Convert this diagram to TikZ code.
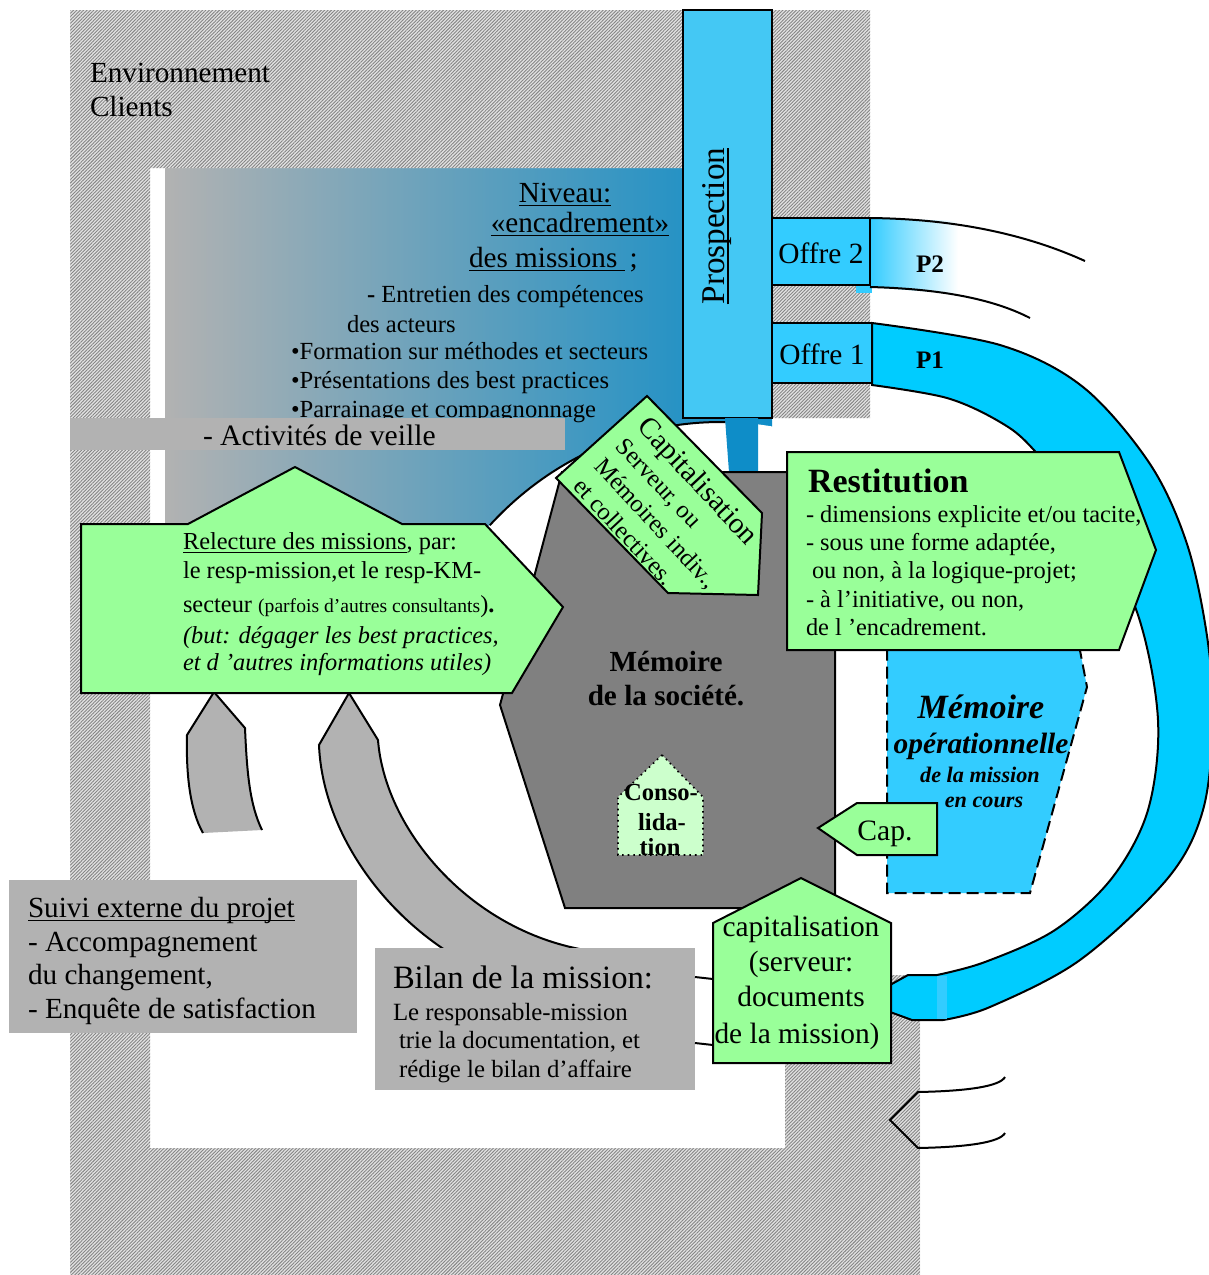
\documentclass[tikz,border=0pt]{standalone}
\usepackage{fontspec}
\setmainfont{Liberation Serif}
\usetikzlibrary{patterns.meta}
\newcommand{\fsz}[1]{\fontsize{#1}{#1}\selectfont}
% underline set a little below the baseline
\newcommand{\undl}[1]{\setbox0\hbox{#1}\rlap{\vrule width\wd0 height -1.3pt depth 2.05pt}\box0}

\definecolor{lgreen}{HTML}{99FF99}
\definecolor{pgreen}{HTML}{CCFFCC}
\definecolor{cyanband}{HTML}{00CCFF}
\definecolor{offreblue}{HTML}{33CCFF}
\definecolor{prosblue}{HTML}{44C8F4}
\definecolor{boxgray}{HTML}{B2B2B2}
\definecolor{memgray}{HTML}{808080}
\definecolor{deepblue}{HTML}{0E8DC8}
\definecolor{midblue}{HTML}{8EAABE}
\definecolor{hatchbg}{HTML}{E2E2E2}
\definecolor{hatchline}{HTML}{858585}

\tikzset{
  txt/.style={inner sep=0pt, outer sep=0pt, anchor=base west},
  ctxt/.style={inner sep=0pt, outer sep=0pt, anchor=base},
  edge/.style={draw=black, line width=1pt, line join=miter},
  hatchfill/.style={fill=hatchbg, postaction={pattern={Lines[angle=45,distance=1.2pt,line width=0.45pt]}, pattern color=hatchline}},
  greenbox/.style={edge, fill=lgreen},
}

\begin{document}
\begin{tikzpicture}[x=0.5pt, y=-0.5pt, line width=1pt]
\useasboundingbox (0,0) rectangle (1209,1275);
\fill[white] (0,0) rectangle (1209,1275);

% management level panel (grey to blue)
\shade[left color=boxgray, middle color=midblue, right color=deepblue] (165,168) rectangle (772,600);

% white field around the company memory
\fill[white] (720,760) ellipse [x radius=320, y radius=338];

% client environment frame
\path[hatchfill] (70,10) rectangle (870,168) (70,168) rectangle (150,1275)
  (150,1148) rectangle (920,1275) (785,975) rectangle (920,1148) (772,168) rectangle (870,418);

\draw plot[domain=-136:-89, samples=40] ({720+320*cos(\x)},{760+338*sin(\x)});

\node[txt, font=\fsz{14.6}] (env1) at (90,82) {Environnement};
\node[txt, font=\fsz{14.6}] (env2) at (90,116) {Clients};

% management level texts
\node[ctxt, font=\fsz{14.6}] (niv1) at (565,202) {\undl{Niveau:}};
\node[ctxt, font=\fsz{14.6}] (niv2) at (580,232) {\undl{«encadrement»}};
\node[txt, font=\fsz{14.6}] (niv3) at (469,267) {\undl{des missions }\,;};
\node[txt, font=\fsz{12.3}] (ent1) at (367,302) {\textbf{-} Entretien des compétences};
\node[txt, font=\fsz{12.3}] (ent2) at (347,332) {des acteurs};
\node[txt, font=\fsz{12.3}] (ent3) at (291,359) {•Formation sur méthodes et secteurs};
\node[txt, font=\fsz{12.3}] (ent4) at (291,388) {•Présentations des best practices};
\node[txt, font=\fsz{12.3}] (ent5) at (291,417) {•Parrainage et compagnonnage};

\fill[boxgray] (70,418) rectangle (565,450);
\node[txt, font=\fsz{14.8}] (veille) at (203,445) {- Activités de veille};

% proposal P2 (fading)
\shade[left color=offreblue, right color=white] (870,218) -- (958,221) -- (958,294) -- (870,287) -- cycle;
\fill[offreblue] (856,286) rectangle (872,293);
\draw (870,218) .. controls (960,219) and (1030,236) .. (1085,261);
\draw (870,287) .. controls (945,289) and (995,300) .. (1030,318);

% proposal P1 (won, loops round to the mission)
\path[edge, fill=cyanband]
  (872,323) -- plot[smooth, tension=0.55] coordinates {(872,323) (1000,345) (1083,387) (1150,464) (1187,544) (1207,636) (1213,720) (1203,810) (1168,878) (1080,960) (990,1007) (943,1020)}
  -- (912,1020) -- (890,1012) -- (890,985) -- (908,975)
  -- plot[smooth, tension=0.55] coordinates {(937,975) (985,962) (1055,930) (1112,878) (1148,810) (1158,720) (1138,615) (1092,522) (1033,449) (1000,422) (947,398) (872,385)}
  -- cycle;
\fill[offreblue] (937,976) rectangle (947,1019);

\node[txt, font=\bfseries\fsz{12.6}] (p2) at (916,272) {P2};
\node[txt, font=\bfseries\fsz{12.6}] (p1) at (916,368) {P1};

\path[edge, fill=offreblue] (772,218) rectangle (870,285);
\path[edge, fill=offreblue] (772,323) rectangle (872,383);
\node[font=\fsz{14.7}, inner sep=0pt] (offre2) at (821,253) {Offre 2};
\node[font=\fsz{14.7}, inner sep=0pt] (offre1) at (822,354) {Offre 1};

% prospection column
\path[edge, fill=prosblue] (683,10) rectangle (772,418);
\node[rotate=90, inner sep=0pt, font=\fsz{16.6}] (pros) at (717,226) {\undl{Prospection}};
\fill[deepblue] (725,418) -- (758,418) -- (758,472) -- (729,472) -- cycle;

% company memory
\path[edge, fill=memgray] (562,472) -- (835,472) -- (835,908) -- (565,908) -- (500,705) -- cycle;
\node[ctxt, font=\bfseries\fsz{14.6}] (mem1) at (666,671) {Mémoire};
\node[ctxt, font=\bfseries\fsz{14.6}] (mem2) at (666,705) {de la société.};

\path[draw=black, line width=0.8pt, dotted, fill=pgreen] (662,755) -- (703,797) -- (703,855) -- (618,855) -- (618,797) -- cycle;
\node[ctxt, font=\bfseries\fsz{12.3}] (cons1) at (661,800) {Conso-};
\node[ctxt, font=\bfseries\fsz{12.3}] (cons2) at (662,830) {lida-};
\node[ctxt, font=\bfseries\fsz{12.3}] (cons3) at (660,855) {tion};

% capitalisation towards the memories
\path[greenbox] (647,396) -- (762,513) -- (758,595) -- (668,593) -- (556,478) -- cycle;
\node[rotate=-47, anchor=north west, align=left, inner sep=0pt, outer sep=0pt,
      font=\fontsize{12.3}{14.6}\selectfont] (capi) at (651,414)
  {{\fontsize{14.6}{14.6}\selectfont Capitalisation}\\Serveur, ou\\Mémoires indiv.,\\et collectives.};

% operational memory of the running mission
\path[draw=black, line width=1pt, dash pattern=on 6pt off 3pt, fill=offreblue] (887,640) -- (1078,640) -- (1087,687) -- (1030,893) -- (887,893) -- cycle;
\node[ctxt, font=\bfseries\itshape\fsz{17}] (op1) at (981,718) {Mémoire};
\node[ctxt, font=\bfseries\itshape\fsz{14.7}] (op2) at (981,753) {opérationnelle};
\node[ctxt, font=\bfseries\itshape\fsz{11.1}] (op3) at (980,782) {de la mission};
\node[ctxt, font=\bfseries\itshape\fsz{11.1}] (op4) at (984,807) {en cours};

% restitution
\path[greenbox] (787,452) -- (1119,452) -- (1156,550) -- (1119,650) -- (787,650) -- cycle;
\node[txt, font=\bfseries\fsz{17}] (rest0) at (808,492) {Restitution};
\node[txt, font=\fsz{12.2}] (rest1) at (806,522) {- dimensions explicite et/ou tacite,};
\node[txt, font=\fsz{12.2}] (rest2) at (806,550) {- sous une forme adaptée,};
\node[txt, font=\fsz{12.2}] (rest3) at (812,578) {ou non, à la logique-projet;};
\node[txt, font=\fsz{12.2}] (rest4) at (806,607) {- à l’initiative, ou non,};
\node[txt, font=\fsz{12.2}] (rest5) at (806,635) {de l ’encadrement.};

% Cap. arrow
\path[greenbox] (818,828) -- (857,803) -- (937,803) -- (937,855) -- (857,855) -- cycle;
\node[ctxt, font=\fsz{14.8}] (cap) at (885,840) {Cap.};

% grey return arrows
\fill[boxgray] (214,692) -- (245,728) .. controls (247,775) and (250,805) .. (262,830) -- (203,833) .. controls (190,810) and (186,775) .. (187,735) -- cycle;
\draw (203,833) .. controls (190,810) and (186,775) .. (187,735) -- (214,692) -- (245,728) .. controls (247,775) and (250,805) .. (262,830);
\fill[boxgray] (349,693) -- (378,740) .. controls (385,830) and (470,930) .. (585,950) -- (445,950) .. controls (370,900) and (322,820) .. (319,745) -- cycle;
\draw (445,950) .. controls (370,900) and (322,820) .. (319,745) -- (349,693) -- (378,740) .. controls (385,830) and (470,930) .. (585,950);

% mission review
\path[greenbox] (81,524) -- (188,524) -- (295,467) -- (402,524) -- (485,524) -- (563,607) -- (512,693) -- (81,693) -- cycle;
\node[txt, font=\fsz{12.2}] (rel1) at (183,549) {\undl{Relecture des missions}, par:};
\node[txt, font=\fsz{12.2}] (rel2) at (183,578) {le resp-mission,et le resp-KM-};
\node[txt, font=\fsz{12.2}] (rel3) at (183,612) {secteur {\fsz{9.8}(parfois d’autres consultants})\textbf{.}};
\node[txt, font=\itshape\fsz{12.2}] (rel4) at (183,643) {(but: dégager les best practices,};
\node[txt, font=\itshape\fsz{12.2}] (rel5) at (183,670) {et d ’autres informations utiles)};

% mission report
\fill[boxgray] (375,948) rectangle (695,1090);
\node[txt, font=\fsz{16.3}] (bil0) at (393,988) {Bilan de la mission:};
\node[txt, font=\fsz{12.4}] (bil1) at (393,1020) {Le responsable-mission};
\node[txt, font=\fsz{12.4}] (bil2) at (399,1048) {trie la documentation, et};
\node[txt, font=\fsz{12.4}] (bil3) at (399,1077) {rédige le bilan d’affaire};
\draw (695,977) -- (713,979);
\draw (695,1043) -- (713,1045);

% capitalisation of the mission documents
\path[greenbox] (801,878) -- (891,923) -- (891,1063) -- (713,1063) -- (713,923) -- cycle;
\node[ctxt, font=\fsz{14.7}] (cd1) at (801,936) {capitalisation};
\node[ctxt, font=\fsz{14.7}] (cd2) at (801,971) {(serveur:};
\node[ctxt, font=\fsz{14.7}] (cd3) at (801,1006) {documents};
\node[ctxt, font=\fsz{14.7}] (cd4) at (797,1043) {de la mission)};

% external follow-up
\fill[boxgray] (9,880) rectangle (357,1033);
\node[txt, font=\fsz{14.6}] (suiv0) at (28,917) {\undl{Suivi externe du projet}};
\node[txt, font=\fsz{14.6}] (suiv1) at (28,951) {- Accompagnement};
\node[txt, font=\fsz{14.6}] (suiv2) at (28,984) {du changement,};
\node[txt, font=\fsz{14.6}] (suiv3) at (28,1018) {- Enquête de satisfaction};

% open arrow at the bottom right
\draw (1005,1077) .. controls (1000,1086) and (970,1091) .. (918,1092) -- (890,1120) -- (918,1148) .. controls (970,1147) and (1000,1142) .. (1005,1133);
\end{tikzpicture}
\end{document}
